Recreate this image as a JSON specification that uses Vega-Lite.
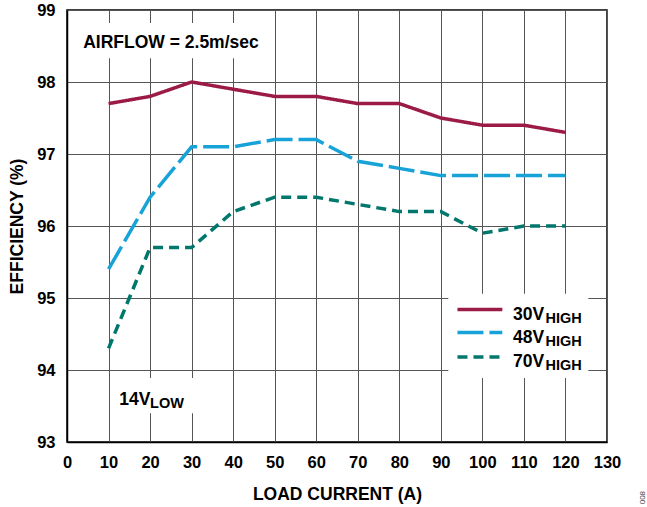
{
  "$schema": "https://vega.github.io/schema/vega-lite/v6.json",
  "width": 540,
  "height": 432,
  "autosize": {"type": "none"},
  "padding": {"left": 67, "top": 10, "right": 40, "bottom": 65},
  "background": "white",
  "config": {
    "font": "Liberation Sans",
    "view": {"stroke": "black", "strokeWidth": 1.5},
    "axis": {
      "labelFont": "Liberation Sans", "labelFontWeight": "bold", "labelFontSize": 16.5, "labelColor": "black",
      "titleFont": "Liberation Sans", "titleFontWeight": "bold", "titleFontSize": 17.5, "titleColor": "black",
      "grid": true, "gridColor": "#555555", "gridWidth": 1, "ticks": false,
      "domainColor": "black", "domainWidth": 1.5, "labelFlush": false, "labelOverlap": false
    }
  },
  "datasets": {
    "series": [
      {"current": 10, "eff": 97.7, "s": "30V"}, {"current": 20, "eff": 97.8, "s": "30V"}, {"current": 30, "eff": 98.0, "s": "30V"},
      {"current": 40, "eff": 97.9, "s": "30V"}, {"current": 50, "eff": 97.8, "s": "30V"}, {"current": 60, "eff": 97.8, "s": "30V"},
      {"current": 70, "eff": 97.7, "s": "30V"}, {"current": 80, "eff": 97.7, "s": "30V"}, {"current": 90, "eff": 97.5, "s": "30V"},
      {"current": 100, "eff": 97.4, "s": "30V"}, {"current": 110, "eff": 97.4, "s": "30V"}, {"current": 120, "eff": 97.3, "s": "30V"},
      {"current": 10, "eff": 95.4, "s": "48V"}, {"current": 20, "eff": 96.4, "s": "48V"}, {"current": 30, "eff": 97.1, "s": "48V"},
      {"current": 40, "eff": 97.1, "s": "48V"}, {"current": 50, "eff": 97.2, "s": "48V"}, {"current": 60, "eff": 97.2, "s": "48V"},
      {"current": 70, "eff": 96.9, "s": "48V"}, {"current": 80, "eff": 96.8, "s": "48V"}, {"current": 90, "eff": 96.7, "s": "48V"},
      {"current": 100, "eff": 96.7, "s": "48V"}, {"current": 110, "eff": 96.7, "s": "48V"}, {"current": 120, "eff": 96.7, "s": "48V"},
      {"current": 10, "eff": 94.3, "s": "70V"}, {"current": 20, "eff": 95.7, "s": "70V"}, {"current": 30, "eff": 95.7, "s": "70V"},
      {"current": 40, "eff": 96.2, "s": "70V"}, {"current": 50, "eff": 96.4, "s": "70V"}, {"current": 60, "eff": 96.4, "s": "70V"},
      {"current": 70, "eff": 96.3, "s": "70V"}, {"current": 80, "eff": 96.2, "s": "70V"}, {"current": 90, "eff": 96.2, "s": "70V"},
      {"current": 100, "eff": 95.9, "s": "70V"}, {"current": 110, "eff": 96.0, "s": "70V"}, {"current": 120, "eff": 96.0, "s": "70V"}
    ],
    "boxes": [
      {"x1": 2.7, "x2": 48.9, "y1": 98.33, "y2": 98.82},
      {"x1": 11.1, "x2": 33.0, "y1": 93.40, "y2": 93.89},
      {"x1": 91.8, "x2": 125.5, "y1": 93.89, "y2": 95.06}
    ],
    "legend": [
      {"x1": 94.0, "x2": 104.8, "y": 94.84, "s": "30V"},
      {"x1": 94.0, "x2": 104.8, "y": 94.52, "s": "48V"},
      {"x1": 94.0, "x2": 104.8, "y": 94.18, "s": "70V"}
    ],
    "main": [
      {"x": 3.9, "y": 98.468, "t": "AIRFLOW = 2.5m/sec"},
      {"x": 12.6, "y": 93.52, "t": "14V"},
      {"x": 107.4, "y": 94.70, "t": "30V"},
      {"x": 107.4, "y": 94.37, "t": "48V"},
      {"x": 107.4, "y": 94.04, "t": "70V"}
    ],
    "sub": [
      {"x": 20.0, "y": 93.52, "t": "LOW"},
      {"x": 115.2, "y": 94.70, "t": "HIGH"},
      {"x": 115.2, "y": 94.37, "t": "HIGH"},
      {"x": 115.2, "y": 94.04, "t": "HIGH"}
    ],
    "note": [{"x": 138.6, "y": 92.32, "t": "008"}]
  },
  "layer": [
    {
      "data": {"name": "boxes"},
      "mark": {"type": "rect", "fill": "white", "stroke": null},
      "encoding": {
        "x": {"field": "x1", "type": "quantitative", "scale": {"domain": [0, 130], "nice": false, "zero": false},
              "axis": {"values": [0,10,20,30,40,50,60,70,80,90,100,110,120,130], "format": "d", "title": "LOAD CURRENT (A)", "labelPadding": 12, "titlePadding": 15}},
        "x2": {"field": "x2"},
        "y": {"field": "y1", "type": "quantitative", "scale": {"domain": [93, 99], "nice": false, "zero": false},
              "axis": {"values": [93,94,95,96,97,98,99], "format": "d", "title": "EFFICIENCY (%)", "labelPadding": 12, "titlePadding": 10}},
        "y2": {"field": "y2"}
      }
    },
    {
      "data": {"name": "series"},
      "mark": {"type": "line", "strokeWidth": 3.5, "strokeCap": "butt"},
      "encoding": {
        "x": {"field": "current", "type": "quantitative"},
        "y": {"field": "eff", "type": "quantitative"},
        "color": {"field": "s", "type": "nominal", "legend": null,
                  "scale": {"domain": ["30V", "48V", "70V"], "range": ["#9B1B46", "#17A3D8", "#00776C"]}},
        "strokeDash": {"field": "s", "type": "nominal", "legend": null,
                  "scale": {"domain": ["30V", "48V", "70V"], "range": [[1, 0], [26, 6], [10, 6]]}}
      }
    },
    {
      "data": {"name": "legend"},
      "mark": {"type": "rule", "strokeWidth": 3.5, "strokeCap": "butt"},
      "encoding": {
        "x": {"field": "x1", "type": "quantitative"},
        "x2": {"field": "x2"},
        "y": {"field": "y", "type": "quantitative"},
        "color": {"field": "s", "type": "nominal", "legend": null},
        "strokeDash": {"field": "s", "type": "nominal", "legend": null}
      }
    },
    {
      "data": {"name": "main"},
      "mark": {"type": "text", "align": "left", "baseline": "alphabetic", "fontSize": 17.5, "fontWeight": "bold", "font": "Liberation Sans", "color": "black"},
      "encoding": {
        "x": {"field": "x", "type": "quantitative"},
        "y": {"field": "y", "type": "quantitative"},
        "text": {"field": "t"}
      }
    },
    {
      "data": {"name": "sub"},
      "mark": {"type": "text", "align": "left", "baseline": "alphabetic", "dy": 3, "fontSize": 14.5, "fontWeight": "bold", "font": "Liberation Sans", "color": "black"},
      "encoding": {
        "x": {"field": "x", "type": "quantitative"},
        "y": {"field": "y", "type": "quantitative"},
        "text": {"field": "t"}
      }
    },
    {
      "data": {"name": "note"},
      "mark": {"type": "text", "align": "right", "baseline": "middle", "angle": 270, "fontSize": 8, "font": "Liberation Sans", "color": "#444444", "clip": false},
      "encoding": {
        "x": {"field": "x", "type": "quantitative"},
        "y": {"field": "y", "type": "quantitative"},
        "text": {"field": "t"}
      }
    }
  ]
}
